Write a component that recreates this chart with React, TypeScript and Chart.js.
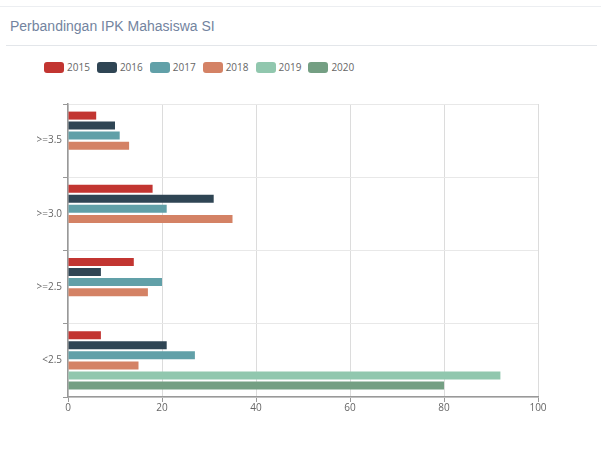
import React, { useEffect, useRef } from "react";
import { Chart, registerables } from "chart.js";

Chart.register(...registerables);

const categories = [">=3.5", ">=3.0", ">=2.5", "<2.5"];
const years = ["2015", "2016", "2017", "2018", "2019", "2020"];
const colors = ["#c23531", "#2f4554", "#61a0a8", "#d48265", "#91c7ae", "#749f83"];
const v2015 = [6, 18, 14, 7];
const v2016 = [10, 31, 7, 21];
const v2017 = [11, 21, 20, 27];
const v2018 = [13, 35, 17, 15];
const v2019 = [null, null, null, 92];
const v2020 = [null, null, null, 80];
const seriesValues = [v2015, v2016, v2017, v2018, v2019, v2020];
const xTicks = [0, 20, 40, 60, 80, 100];

const TITLE = "Perbandingan IPK Mahasiswa SI";
const FONT = "'Open Sans', sans-serif";

export default function App() {
  const ref = useRef<HTMLCanvasElement | null>(null);

  useEffect(() => {
    if (!ref.current) return;
    const chart = new Chart(ref.current, {
      type: "bar",
      data: {
        labels: categories,
        datasets: years.map((y, i) => ({
          label: y,
          data: seriesValues[i] as any,
          backgroundColor: colors[i],
          borderWidth: 0,
          categoryPercentage: 0.82,
          barPercentage: 0.8,
        })),
      },
      options: {
        indexAxis: "y",
        responsive: false,
        animation: false,
        layout: { padding: { top: 104, left: 0, right: 63, bottom: 23 } },
        plugins: {
          legend: { display: false },
          tooltip: { enabled: false },
        },
        scales: {
          x: {
            min: 0,
            max: 100,
            afterBuildTicks: (s: any) => {
              s.ticks = xTicks.map((v) => ({ value: v }));
            },
            afterFit: (s: any) => {
              s.height = 30;
            },
            grid: {
              color: "#dcdcdc",
              tickColor: "#999",
              tickLength: 5,
              drawTicks: true,
            },
            border: { display: true, color: "#999", width: 1.5 },
            ticks: {
              color: "#666",
              padding: 0,
              font: { family: FONT, size: 10 },
            },
          },
          y: {
            afterFit: (s: any) => {
              s.width = 68;
            },
            grid: {
              offset: true,
              color: "#e8e8e8",
              tickColor: "#999",
              tickLength: 5,
            },
            border: { display: true, color: "#999", width: 1.5 },
            ticks: {
              color: "#666",
              padding: 1,
              font: { family: FONT, size: 10 },
            },
          },
        },
      },
    });
    return () => chart.destroy();
  }, []);

  return (
    <div
      style={{
        position: "absolute",
        left: 0,
        top: 0,
        width: 601,
        height: 450,
        background: "#fff",
        overflow: "hidden",
      }}
    >
      <div style={{ position: "absolute", left: 0, top: 6, width: 601, height: 1, background: "#eceef1" }} />
      <div
        style={{
          position: "absolute",
          left: 10,
          top: 19,
          fontFamily: "'Liberation Sans', Arial, sans-serif",
          fontSize: 14,
          lineHeight: "14px",
          color: "#7384a0",
          whiteSpace: "nowrap",
        }}
      >
        {TITLE}
      </div>
      <div style={{ position: "absolute", left: 6, top: 45, width: 591, height: 1, background: "#e3e6ea" }} />
      <div
        style={{
          position: "absolute",
          left: 44,
          top: 61,
          display: "flex",
          alignItems: "center",
          fontFamily: FONT,
          fontSize: 10,
          color: "#666",
          lineHeight: "12px",
        }}
      >
        {years.map((y, i) => (
          <div key={y} style={{ display: "flex", alignItems: "center", marginRight: 7 }}>
            <span
              style={{
                display: "inline-block",
                width: 20,
                height: 11,
                borderRadius: 3,
                background: colors[i],
                marginRight: 3,
              }}
            />
            <span>{y}</span>
          </div>
        ))}
      </div>
      <canvas
        ref={ref}
        width={601}
        height={450}
        style={{ position: "absolute", left: 0, top: 0, width: 601, height: 450 }}
      />
    </div>
  );
}
